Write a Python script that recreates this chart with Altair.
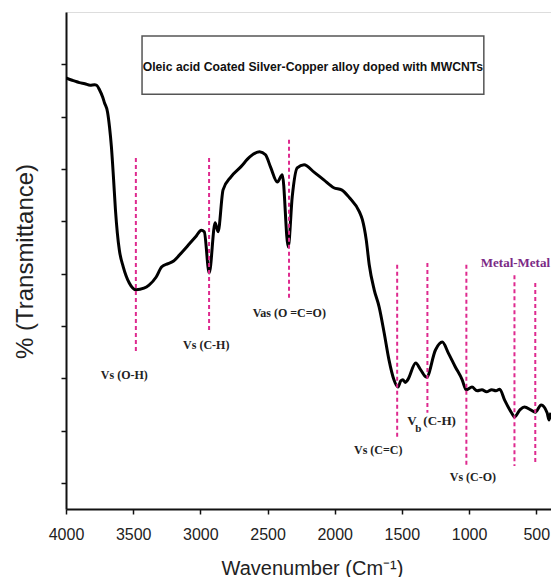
import altair as alt
import pandas as pd

# ---- spectrum (wavenumber cm^-1, transmittance a.u.) ----
wavenumber = [4000, 3960, 3934, 3900, 3860, 3820, 3787, 3772, 3750, 3728, 3713, 3691, 3676,
              3662, 3647, 3632, 3618, 3603, 3574, 3529, 3478, 3420, 3382, 3330, 3287, 3240,
              3199, 3140, 3088, 3030, 2993, 2971, 2934, 2890, 2868, 2831, 2772, 2699, 2632,
              2559, 2515, 2478, 2427, 2390, 2346, 2316, 2279, 2228, 2154, 2081, 2007, 1949,
              1890, 1816, 1794, 1765, 1743, 1706, 1669, 1632, 1596, 1559, 1529, 1508, 1493,
              1475, 1456, 1397, 1360, 1316, 1250, 1199, 1154, 1103, 1051, 1022, 978, 940,
              904, 870, 831, 800, 772, 735, 684, 662, 620, 588, 537, 507, 463, 419, 404, 392]
transmittance = [82.4, 82.0, 81.8, 81.5, 81.3, 81.0, 81.1, 81.0, 80.1, 78.8, 77.6, 75.9, 73.0,
                 69.2, 63.5, 57.2, 52.8, 49.5, 46.3, 43.2, 41.9, 42.2, 42.8, 44.3, 46.3, 46.9,
                 47.4, 49.0, 50.5, 52.2, 53.3, 53.0, 45.1, 54.7, 53.0, 61.0, 63.5, 65.4, 67.3,
                 68.3, 67.7, 65.4, 62.5, 63.9, 50.1, 59.7, 65.2, 65.8, 64.4, 62.9, 61.4, 61.0,
                 59.5, 56.8, 55.3, 51.4, 46.7, 41.9, 38.6, 33.7, 28.5, 24.7, 23.3, 24.5, 24.7,
                 24.2, 24.7, 27.9, 26.6, 25.2, 30.4, 31.9, 29.8, 27.2, 24.7, 22.8, 23.3, 22.6,
                 22.8, 22.4, 22.8, 22.6, 22.9, 20.8, 18.4, 17.6, 19.0, 19.5, 18.9, 18.5, 19.9,
                 18.4, 17.0, 18.4]

# ---- dashed marker lines ----
line_wn = [3480, 2935, 2340, 1535, 1310, 1020, 662, 507]
line_top = [67.1, 67.1, 70.6, 46.7, 47.0, 46.7, 44.7, 43.2]
line_bottom = [29.8, 33.7, 40.0, 13.6, 18.4, 8.0, 8.2, 9.0]

# ---- band labels ----
label_text = ["Vs (O-H)", "Vs (C-H)", "Vas (O =C=O)", "Vs (C=C)", "Vs (C-O)"]
label_wn = [3566, 2956, 2338, 1676, 971]
label_t = [25.6, 31.4, 37.5, 11.3, 6.1]

# bending label pieces (V, subscript b, (C-H))
bend_text = ["V", "(C-H)"]
bend_wn = [1460, 1340]
bend_t = [16.9, 16.8]
sub_text = ["b"]
sub_wn = [1400]
sub_t = [15.3]

metal_text = ["Metal-Metal"]
metal_wn = [655]
metal_t = [47.0]

# ---- legend box ----
box_title = ["Oleic acid Coated Silver-Copper alloy doped with MWCNTs"]
box_wn = [3434]
box_wn2 = [890]
box_t = [90.4]
box_t2 = [79.3]
box_text_wn = [2162]
box_text_t = [84.5]

x_ticks = [4000, 3750, 3500, 3250, 3000, 2750, 2500, 2250, 2000, 1750, 1500, 1250, 1000, 750, 500]
y_ticks = [5, 15, 25, 35, 45, 55, 65, 75, 85]

spec = pd.DataFrame({"wn": wavenumber, "t": transmittance})
lines = pd.DataFrame({"wn": line_wn, "t": line_top, "t2": line_bottom})
labels = pd.DataFrame({"text": label_text, "wn": label_wn, "t": label_t})
bend = pd.DataFrame({"text": bend_text, "wn": bend_wn, "t": bend_t})
sub = pd.DataFrame({"text": sub_text, "wn": sub_wn, "t": sub_t})
metal = pd.DataFrame({"text": metal_text, "wn": metal_wn, "t": metal_t})
box = pd.DataFrame({"wn": box_wn, "wn2": box_wn2, "t": box_t, "t2": box_t2,
                    "text": box_title, "twn": box_text_wn, "tt": box_text_t})

xscale = alt.Scale(domain=[4000, 390], nice=False, zero=False)
yscale = alt.Scale(domain=[0, 95], nice=False, zero=False)

xaxis = alt.Axis(
    title="Wavenumber (Cm⁻¹)", values=x_ticks, format="d",
    labelExpr="datum.value % 500 == 0 ? datum.label : ''",
    grid=False, domainColor="#111", domainWidth=2, tickColor="#111", tickWidth=1.5,
    tickSize=5, labelFontSize=16, labelFont="Liberation Sans", labelColor="#222",
    labelPadding=12, titleFont="Liberation Sans", titleFontSize=20, titleFontWeight="normal",
    titleColor="#222", titleY=65, titleX=246, titleBaseline="alphabetic", labelFlush=False,
)
yaxis = alt.Axis(
    title="% (Transmittance)", values=y_ticks, labels=False, grid=False,
    domainColor="#111", domainWidth=2, tickColor="#111", tickWidth=1.5, tickSize=5,
    titleFont="Liberation Sans", titleFontSize=24, titleFontWeight="normal",
    titleColor="#222", titleAngle=270, titleX=-34, titleY=249, titleAlign="center",
    titleBaseline="alphabetic",
)

curve = alt.Chart(spec).mark_line(color="black", strokeWidth=3, interpolate="monotone",
                                  clip=True).encode(
    x=alt.X("wn:Q", scale=xscale, axis=xaxis),
    y=alt.Y("t:Q", scale=yscale, axis=yaxis),
    order=alt.Order("wn:Q", sort="descending"),
)

dashes = alt.Chart(lines).mark_rule(color="#de2a8f", strokeWidth=2, strokeDash=[4, 3]).encode(
    x="wn:Q", y="t:Q", y2="t2:Q")

serif = "Liberation Serif"
lab = alt.Chart(labels).mark_text(font=serif, fontWeight="bold", fontSize=12,
                                  color="#222").encode(x="wn:Q", y="t:Q", text="text:N")
bend_l = alt.Chart(bend).mark_text(font=serif, fontWeight="bold", fontSize=13, color="#222",
                                   align="left").encode(x="wn:Q", y="t:Q", text="text:N")
sub_l = alt.Chart(sub).mark_text(font=serif, fontWeight="bold", fontSize=11, color="#222",
                                 align="left").encode(x="wn:Q", y="t:Q", text="text:N")
metal_l = alt.Chart(metal).mark_text(font=serif, fontWeight="bold", fontSize=13,
                                     color="#7b2a86").encode(x="wn:Q", y="t:Q", text="text:N")

box_r = alt.Chart(box).mark_rect(fill="white", stroke="#555", strokeWidth=1.5).encode(
    x="wn:Q", x2="wn2:Q", y="t:Q", y2="t2:Q")
box_t_ = alt.Chart(box).mark_text(font="Liberation Sans", fontWeight="bold",
                                  fontSize=12.2, color="#111").encode(
    x="twn:Q", y="tt:Q", text="text:N")

chart = alt.layer(curve, dashes, box_r, box_t_, lab, bend_l, sub_l, metal_l).properties(
    width=485, height=497,
    autosize=alt.AutoSizeParams(type="none"),
    padding={"left": 58, "top": 4, "right": 0, "bottom": 68},
).configure_view(stroke="#333", strokeWidth=1.5).configure(background="white")

chart.save("out.html", embed_options={"renderer": "svg", "actions": False})
